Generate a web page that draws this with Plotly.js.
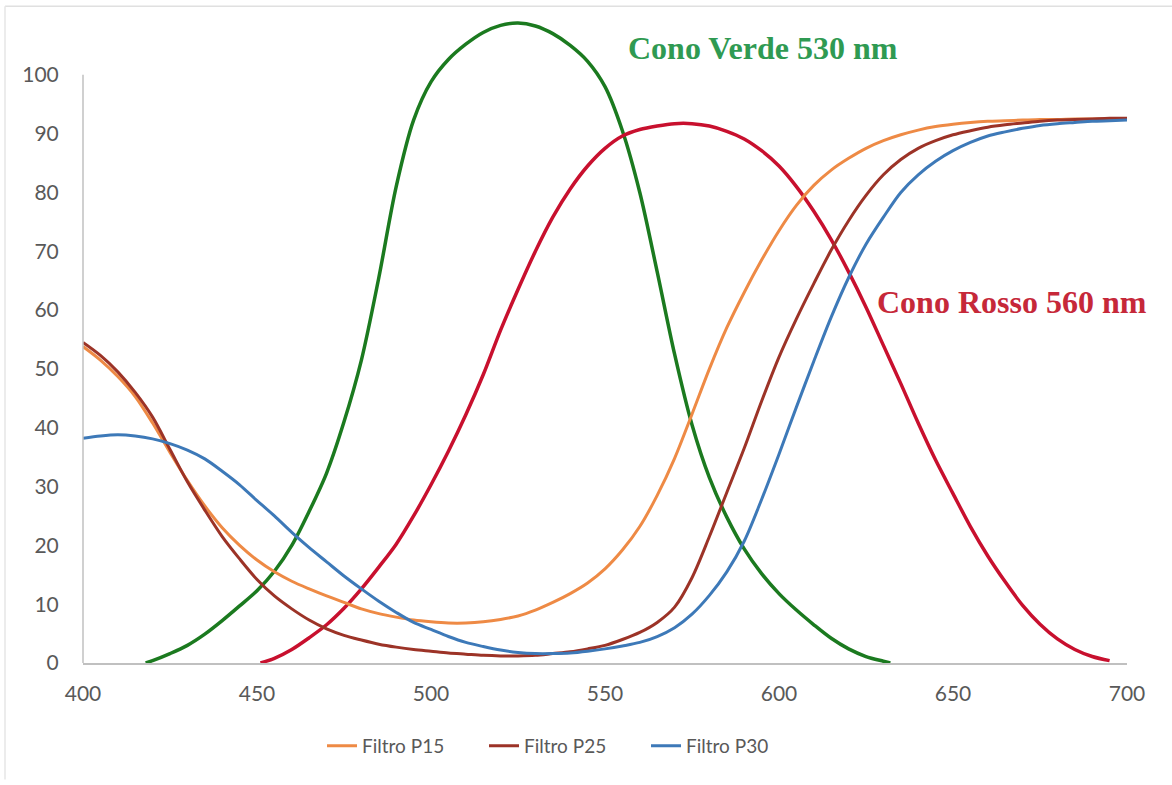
<!DOCTYPE html>
<html>
<head>
<meta charset="utf-8">
<script src="https://cdn.plot.ly/plotly-3.0.1.min.js"></script>
<style>
  html, body { margin: 0; padding: 0; background: #ffffff; }
  #chart { width: 1172px; height: 785px; }
</style>
</head>
<body>
<div id="chart"></div>
<script>
// Wavelengths (nm) for the filter curves
var filterWl = [400,405,410,415,420,425,430,435,440,445,450,455,460,465,470,475,480,485,490,495,
                500,505,510,515,520,525,530,535,540,545,550,555,560,565,570,575,580,585,590,595,
                600,605,610,615,620,625,630,635,640,645,650,655,660,665,670,675,680,685,690,695,700];

var p15 = [53.8,51.5,48.7,45.3,40.8,35.8,31,26.7,23,20,17.5,15.5,13.9,12.6,11.4,10.3,9.2,8.4,7.8,7.3,
           7.0,6.8,6.8,7.0,7.4,8.0,9.0,10.3,11.8,13.6,16.0,19.2,23.2,28.5,34.8,42.3,50,57,63,68.5,
           73.5,77.8,81.2,83.8,85.8,87.5,88.8,89.8,90.6,91.2,91.6,91.9,92.1,92.2,92.3,92.4,92.4,92.5,92.5,92.5,92.5];

var p25 = [54.5,52.3,49.5,46,41.8,36.3,30.8,26,21.5,17.7,14.2,11.4,9.2,7.3,5.8,4.7,3.9,3.2,2.7,2.3,
           2.0,1.7,1.5,1.3,1.2,1.2,1.3,1.6,1.9,2.4,3.0,4.0,5.2,6.9,9.5,14.5,21.5,29,36.5,44.5,
           52,58.5,64.5,70.2,75.2,79.5,83,85.6,87.5,88.8,89.8,90.5,91.1,91.5,91.8,92.1,92.3,92.4,92.5,92.6,92.6];

var p30 = [38.2,38.6,38.8,38.6,38.1,37.3,36.2,34.7,32.6,30.3,27.6,25,22.2,19.6,17.2,14.8,12.6,10.5,8.6,6.9,
           5.7,4.5,3.5,2.8,2.2,1.8,1.6,1.6,1.7,2.0,2.4,2.9,3.5,4.5,6.0,8.3,11.5,15.5,20.7,27.8,
           35.5,43.5,51.3,58.8,65.5,71.2,75.8,80,83,85.3,87.1,88.5,89.6,90.3,90.9,91.4,91.7,91.9,92.1,92.2,92.3];

// Green cone (530 nm)
var greenWl = [418,420,425,430,435,440,445,450,455,460,465,470,475,480,485,490,495,500,505,510,515,520,525,
               530,535,540,545,550,555,560,565,570,575,580,585,590,595,600,605,610,615,620,625,630,632];
var greenVal = [0,0.4,1.6,3.0,4.9,7.2,9.7,12.3,15.6,20.0,25.8,32.3,41,51.5,65.5,81,92.3,98.8,102.6,105.2,107.2,108.4,108.8,
                108.3,107,105,102.3,98,90.5,80,66.5,52.5,40.5,31.5,24.8,19.4,15.2,11.8,9,6.5,4.2,2.4,1.1,0.3,0];

// Red cone (560 nm)
var redWl = [451,455,460,465,470,475,480,485,490,495,500,505,510,515,520,525,530,535,540,545,550,555,560,
             565,570,575,580,585,590,595,600,605,610,615,620,625,630,635,640,645,650,655,660,665,670,675,680,685,690,695];
var redVal = [0,0.8,2.3,4.3,6.5,9.3,12.6,16.3,20.2,25,30.3,36,42.2,49,56.6,63.5,70,75.8,80.6,84.5,87.5,89.6,90.7,
              91.3,91.7,91.7,91.3,90.4,89.1,87.1,84.5,81,76.8,72,66.5,60.5,54,47.5,40.8,34.5,28.8,23.2,18.2,13.8,9.8,6.6,4.1,2.3,1.1,0.4];

var seriesNames = ['Filtro P15', 'Filtro P25', 'Filtro P30'];
var yTicks = [0,10,20,30,40,50,60,70,80,90,100];
var xTicks = [400,450,500,550,600,650,700];
var labelVerde = 'Cono Verde 530 nm';
var labelRosso = 'Cono Rosso 560 nm';

var traces = [
  { x: greenWl, y: greenVal, mode: 'lines', showlegend: false, hoverinfo: 'skip',
    line: { color: '#1b7a1f', width: 3.5, shape: 'spline', smoothing: 0.9 } },
  { x: redWl, y: redVal, mode: 'lines', showlegend: false, hoverinfo: 'skip',
    line: { color: '#c8102e', width: 3.5, shape: 'spline', smoothing: 0.9 } },
  { x: filterWl, y: p15, mode: 'lines', name: seriesNames[0],
    line: { color: '#ee8a45', width: 3, shape: 'spline', smoothing: 0.9 } },
  { x: filterWl, y: p25, mode: 'lines', name: seriesNames[1],
    line: { color: '#9c3327', width: 3, shape: 'spline', smoothing: 0.9 } },
  { x: filterWl, y: p30, mode: 'lines', name: seriesNames[2],
    line: { color: '#3d79b8', width: 3, shape: 'spline', smoothing: 0.9 } }
];

var layout = {
  width: 1172, height: 785,
  margin: { l: 83, r: 45, t: 16, b: 122 },
  paper_bgcolor: '#ffffff', plot_bgcolor: '#ffffff',
  font: { family: 'Lato, "Open Sans", sans-serif', color: '#595959', size: 19 },
  xaxis: {
    range: [400, 700], tickvals: xTicks, ticktext: xTicks.map(String),
    showgrid: false, zeroline: false, showline: true, linecolor: '#c0c0c0', linewidth: 1.5,
    ticks: 'outside', ticklen: 11, tickcolor: 'rgba(0,0,0,0)',
    tickfont: { size: 21, color: '#595959' }
  },
  yaxis: {
    range: [0, 110], tickvals: yTicks, ticktext: yTicks.map(String),
    showgrid: false, zeroline: false, showline: false,
    ticks: 'outside', ticklen: 19, tickcolor: 'rgba(0,0,0,0)',
    tickfont: { size: 21, color: '#595959' }
  },
  shapes: [
    { type: 'line', xref: 'paper', yref: 'y', x0: 0, x1: 0, y0: 0, y1: 100,
      line: { color: '#c0c0c0', width: 1.5 } },
    { type: 'line', xref: 'paper', yref: 'paper', x0: -0.0747, x1: 1.05, y0: 1.015, y1: 1.015,
      line: { color: '#e0e0e0', width: 1.5 } },
    { type: 'line', xref: 'paper', yref: 'paper', x0: -0.0747, x1: -0.0747, y0: -0.18, y1: 1.015,
      line: { color: '#e6e6e6', width: 1.5 } }
  ],
  annotations: [
    { x: 595.4, y: 104.6, xref: 'x', yref: 'y', text: '<b>' + labelVerde + '</b>', showarrow: false,
      font: { family: '"Liberation Serif", "DejaVu Serif", serif', size: 32, color: '#2f9a52' } },
    { x: 667, y: 61.4, xref: 'x', yref: 'y', text: '<b>' + labelRosso + '</b>', showarrow: false,
      font: { family: '"Liberation Serif", "DejaVu Serif", serif', size: 32, color: '#c62839' } }
  ],
  legend: {
    orientation: 'h', x: 0.4617, xanchor: 'center', y: -0.128, yanchor: 'middle',
    entrywidth: 117, entrywidthmode: 'pixels',
    font: { size: 19, color: '#595959' }, bgcolor: 'rgba(0,0,0,0)'
  },
  showlegend: true
};

Plotly.newPlot('chart', traces, layout, { staticPlot: true, displayModeBar: false });
</script>
</body>
</html>
